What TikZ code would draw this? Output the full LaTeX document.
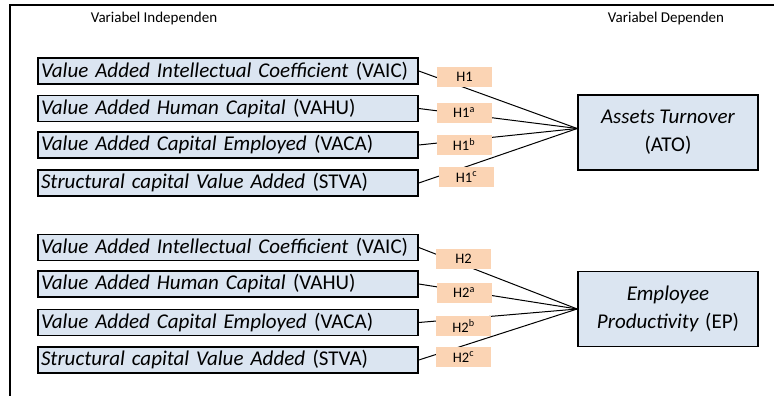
\documentclass[tikz,border=0pt]{standalone}
\usepackage{fontspec}
\setmainfont{Carlito}
\usetikzlibrary{positioning}
\definecolor{varblue}{HTML}{DBE5F1}
\definecolor{hypo}{HTML}{FBD4B4}

\begin{document}
\begin{tikzpicture}[
  x=1pt, y=-1pt,
  varbox/.style = {
    draw, line width=1.6pt, fill=varblue,
    minimum width=\boxw, minimum height=26pt,
    text width=\boxw-6pt, inner xsep=3pt, inner ysep=2pt,
    align=left, font=\fontsize{21}{22}\selectfont
  },
  depbox/.style = {
    draw, line width=1.6pt, fill=varblue,
    minimum width=180pt, minimum height=75pt,
    align=center, font=\fontsize{21}{28}\selectfont
  },
  hbox/.style   = {
    fill=hypo, minimum width=55pt, minimum height=20pt,
    inner sep=0pt, font=\fontsize{14.5}{16}\selectfont
  },
  head/.style   = {font=\fontsize{15}{17}\selectfont},
  link/.style   = {line width=1pt}
]

% ---- constants ----
\def\boxw{380pt}     % width of every variable box
\def\vx{228}         % centre of the variable boxes
\def\gap{\hspace{0.35em}}

\useasboundingbox (0,0) rectangle (774,396);

% ---- frame ----
\draw[line width=2pt] (10,396) -- (10,5) -- (774,5);

% ---- headings ----
\node[head] (indep) at (154,19) {Variabel Independen};
\node[head] (dep)   at (666,19) {Variabel Dependen};

% ---- independent variables (ATO) ----
\node[varbox] (vaicA) at (\vx,71)    {\textit{Value Added Intellectual Coefficient}\gap(VAIC)};
\node[varbox] (vahuA) at (\vx,108.5) {\textit{Value Added Human Capital}\gap(VAHU)};
\node[varbox] (vacaA) at (\vx,145)   {\textit{Value Added Capital Employed}\gap(VACA)};
\node[varbox] (stvaA) at (\vx,183)   {\textit{Structural capital Value Added}\gap(STVA)};

% ---- independent variables (EP) ----
\node[varbox] (vaicB) at (\vx,247.5) {\textit{Value Added Intellectual Coefficient}\gap(VAIC)};
\node[varbox] (vahuB) at (\vx,284)   {\textit{Value Added Human Capital}\gap(VAHU)};
\node[varbox] (vacaB) at (\vx,322.5) {\textit{Value Added Capital Employed}\gap(VACA)};
\node[varbox] (stvaB) at (\vx,360)   {\textit{Structural capital Value Added}\gap(STVA)};

% ---- dependent variables ----
\node[depbox] (ato) at (668,132.5) {\textit{Assets Turnover}\\(ATO)};
\node[depbox] (ep)  at (668,309)   {\textit{Employee}\\\textit{Productivity}\hspace{0.3em}(EP)};

\coordinate (atoIn) at ([yshift=4pt]ato.west);

% ---- links ----
\foreach \v in {vaicA,vahuA,vacaA,stvaA}
  \draw[link] (\v.east) -- (atoIn);
\foreach \v in {vaicB,vahuB,vacaB,stvaB}
  \draw[link] (\v.east) -- (ep.west);

% ---- hypotheses ----
\node[hbox] (h1)  at (464.5,77)  {H1\hspace{0.6em}};
\node[hbox] (h1a) at (464,112.5) {H1\textsuperscript{a}};
\node[hbox] (h1b) at (464,144.5) {H1\textsuperscript{b}};
\node[hbox] (h1c) at (466.5,177) {H1\textsuperscript{c}};

\node[hbox] (h2)  at (463.5,258.5) {H2\hspace{0.6em}};
\node[hbox] (h2a) at (464,292.5)   {H2\textsuperscript{a}};
\node[hbox] (h2b) at (463.5,326)   {H2\textsuperscript{b}};
\node[hbox] (h2c) at (463.5,357)   {H2\textsuperscript{c}};

\end{tikzpicture}
\end{document}
